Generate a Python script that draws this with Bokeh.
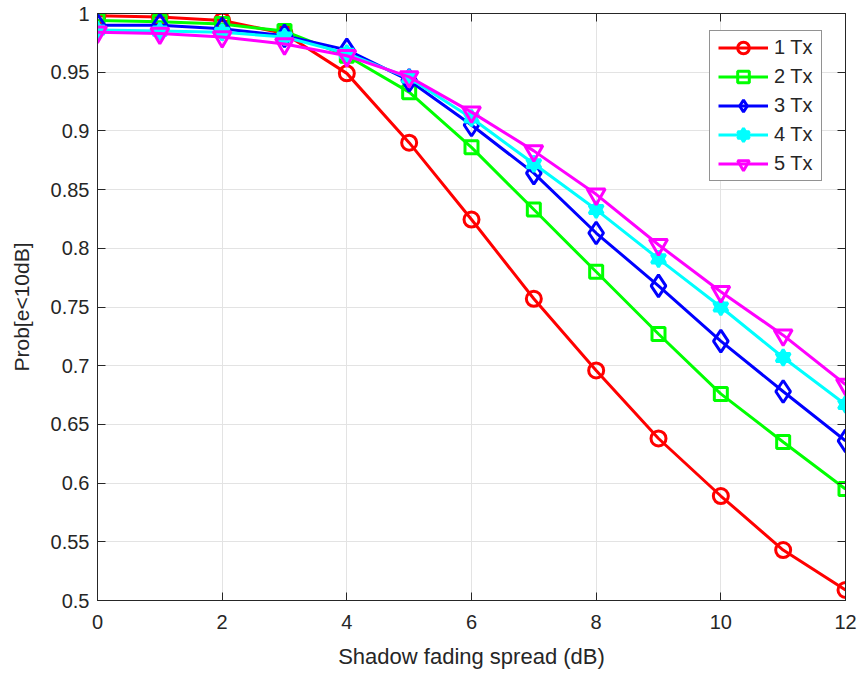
from bokeh.plotting import figure
from bokeh.models import Range1d, LinearAxis, FixedTicker, Legend, LegendItem
from bokeh.embed import file_html
from bokeh.resources import INLINE

x = list(range(13))
tx1 = [0.998, 0.997, 0.994, 0.983, 0.949, 0.890, 0.8245, 0.757, 0.696, 0.638, 0.589, 0.543, 0.509]
tx2 = [0.994, 0.993, 0.991, 0.985, 0.964, 0.933, 0.886, 0.833, 0.780, 0.727, 0.676, 0.635, 0.595]
tx3 = [0.990, 0.990, 0.987, 0.981, 0.969, 0.943, 0.905, 0.864, 0.813, 0.768, 0.721, 0.678, 0.636]
tx4 = [0.986, 0.985, 0.984, 0.980, 0.966, 0.945, 0.911, 0.872, 0.833, 0.791, 0.750, 0.707, 0.667]
tx5 = [0.984, 0.983, 0.980, 0.974, 0.964, 0.946, 0.916, 0.883, 0.846, 0.803, 0.763, 0.726, 0.684]
labels = ["1 Tx", "2 Tx", "3 Tx", "4 Tx", "5 Tx"]
x_ticks = [0, 2, 4, 6, 8, 10, 12]
y_ticks = [0.5, 0.55, 0.6, 0.65, 0.7, 0.75, 0.8, 0.85, 0.9, 0.95, 1.0]
y_tick_labels = ["0.5", "0.55", "0.6", "0.65", "0.7", "0.75", "0.8", "0.85", "0.9", "0.95", "1"]

FONT = "Liberation Sans"
TXT = "#262626"

p = figure(width=858, height=676, output_backend="svg", toolbar_location=None,
           x_range=Range1d(0, 12), y_range=Range1d(0.5, 1.0),
           min_border_left=97, min_border_right=13, min_border_top=13, min_border_bottom=76)
p.background_fill_color = "white"
p.outline_line_color = TXT
p.outline_line_width = 1

for ax in (p.xaxis[0], p.yaxis[0]):
    ax.major_tick_in = 8
    ax.major_tick_out = 0
    ax.minor_tick_line_color = None
    ax.axis_line_color = TXT
    ax.major_tick_line_color = TXT
    ax.major_label_text_font = FONT
    ax.major_label_text_font_size = "20px"
    ax.major_label_text_color = TXT
    ax.axis_label_text_font = FONT
    ax.axis_label_text_font_style = "normal"
    ax.axis_label_text_color = TXT

p.xaxis.major_label_standoff = 14
p.yaxis.major_label_standoff = 8
p.xaxis.axis_label_text_font_size = "22px"
p.yaxis.axis_label_text_font_size = "21px"
p.xaxis.ticker = FixedTicker(ticks=x_ticks)
p.yaxis.ticker = FixedTicker(ticks=y_ticks)
p.yaxis.major_label_overrides = {t: l for t, l in zip(y_ticks, y_tick_labels)}
p.xaxis.axis_label = "Shadow fading spread (dB)"
p.yaxis.axis_label = "Prob[e<10dB]"
p.xaxis.axis_label_standoff = 12
p.yaxis.axis_label_standoff = 15

for loc, tk in (("above", x_ticks), ("right", y_ticks)):
    a = LinearAxis(ticker=FixedTicker(ticks=tk), major_label_text_font_size="1px",
                   major_label_overrides={t: "" for t in tk}, major_label_text_color=None,
                   major_tick_in=8, major_tick_out=0, minor_tick_line_color=None,
                   axis_line_color=TXT, major_tick_line_color=TXT, major_label_standoff=0)
    p.add_layout(a, loc)

p.xgrid.ticker = FixedTicker(ticks=x_ticks)
p.ygrid.ticker = FixedTicker(ticks=y_ticks)
p.grid.grid_line_color = "#e3e3e3"
p.grid.grid_line_width = 1

LW = 3
items = []
series = [tx1, tx2, tx3, tx4, tx5]
colors = ["#ff0000", "#00ff00", "#0000ff", "#00ffff", "#ff00ff"]
for i, (ys, c) in enumerate(zip(series, colors)):
    rs = [p.line(x, ys, line_color=c, line_width=LW)]
    if i == 0:
        rs.append(p.scatter(x, ys, marker="circle", size=15, line_color=c, line_width=LW, fill_color=None))
    elif i == 1:
        rs.append(p.scatter(x, ys, marker="square", size=13, line_color=c, line_width=LW, fill_color=None))
    elif i == 2:
        rs.append(p.scatter(x, ys, marker="diamond", size=22, line_color=c, line_width=LW, fill_color=None))
    elif i == 3:
        rs.append(p.scatter(x, ys, marker="triangle", size=14, line_color=c, line_width=LW, fill_color=c))
        rs.append(p.scatter(x, ys, marker="inverted_triangle", size=14, line_color=c, line_width=LW, fill_color=c))
    else:
        rs.append(p.scatter(x, ys, marker="inverted_triangle", size=18, line_color=c, line_width=LW, fill_color=None))
    items.append(LegendItem(label=labels[i], renderers=rs))

legend = Legend(items=items, location=(612, 419), margin=0,
                padding=dict(left=8, right=8, top=2, bottom=2), spacing=0,
                glyph_width=50, glyph_height=29, label_standoff=6,
                label_text_font=FONT, label_text_font_size="20px", label_text_color=TXT,
                border_line_color=TXT, border_line_width=1, background_fill_alpha=1.0)
p.add_layout(legend, "center")

open("out.html", "w").write(file_html(p, INLINE))
